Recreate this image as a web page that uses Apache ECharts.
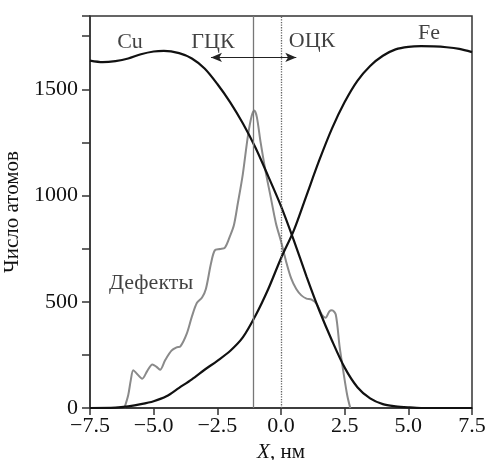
<!DOCTYPE html>
<html>
<head>
<meta charset="utf-8">
<script src="https://cdn.jsdelivr.net/npm/echarts@6/dist/echarts.min.js"></script>
<style>
  html, body { margin: 0; padding: 0; background: #fff; }
  #chart { width: 486px; height: 460px; }
</style>
</head>
<body>
<div id="chart"></div>
<script>
  // Cu profile
  const cuX = [-7.5, -7.0, -6.5, -6.0, -5.5, -5.0, -4.6, -4.0, -3.5, -3.0, -2.5, -2.0, -1.5, -1.0, -0.5, 0.0, 0.5, 1.0, 1.5, 2.0, 2.5, 3.0, 3.5, 4.0, 4.5, 5.0, 5.5, 6.0, 7.5]
  const cuY = [1635, 1628, 1633, 1645, 1665, 1678, 1681, 1670, 1645, 1598, 1525, 1440, 1340, 1225, 1090, 950, 790, 620, 460, 318, 190, 98, 45, 18, 8, 3, 0, 0, 0]
  // Fe profile
  const feX = [-7.5, -6.5, -6.0, -5.5, -5.0, -4.5, -4.0, -3.5, -3.0, -2.5, -2.0, -1.5, -1.0, -0.5, 0.0, 0.5, 1.0, 1.5, 2.0, 2.5, 3.0, 3.5, 4.0, 4.5, 5.0, 5.5, 6.0, 6.5, 7.0, 7.5]
  const feY = [0, 2, 8, 18, 32, 55, 95, 135, 180, 222, 268, 332, 435, 560, 705, 835, 1000, 1165, 1315, 1440, 1540, 1610, 1658, 1688, 1700, 1703, 1702, 1698, 1690, 1675]
  // defects
  const defX = [-6.15, -6.0, -5.9, -5.8, -5.65, -5.45, -5.25, -5.05, -4.9, -4.75, -4.55, -4.3, -4.1, -3.95, -3.7, -3.5, -3.3, -3.1, -2.95, -2.75, -2.6, -2.4, -2.2, -2.0, -1.85, -1.7, -1.5, -1.3, -1.15, -1.05, -0.95, -0.8, -0.6, -0.4, -0.2, 0.0, 0.2, 0.4, 0.6, 0.8, 1.0, 1.2, 1.4, 1.6, 1.75, 1.9, 2.0, 2.15, 2.3, 2.45, 2.6, 2.72]
  const defY = [0, 60, 130, 178, 160, 138, 175, 205, 195, 180, 225, 270, 285, 290, 350, 430, 495, 520, 560, 680, 742, 748, 755, 810, 860, 960, 1100, 1280, 1375, 1400, 1370, 1250, 1110, 990, 870, 785, 690, 610, 560, 530, 515, 510, 490, 440, 425, 455, 460, 440, 290, 170, 60, 0]

  const xTicks = [-7.5, -5.0, -2.5, 0.0, 2.5, 5.0, 7.5]
  const yLabels = [0, 500, 1000, 1500]

  // vertical markers and the ГЦК/ОЦК arrow
  const solidLineX = -1.1
  const dottedLineX = 0.0
  const arrowFrom = [-2.75, 1650]
  const arrowTo = [0.6, 1650]

  // text annotations [x, y, text]
  const notes = [
    [-5.93, 1722, 'Cu'],
    [-2.67, 1722, 'ГЦК'],
    [1.22, 1726, 'ОЦК'],
    [5.81, 1764, 'Fe'],
    [-5.1, 587, 'Дефекты']
  ]

  const font = 'Liberation Serif'
  const ink = '#111'
  const zip = (xs, ys) => xs.map((x, i) => [x, ys[i]])
  const fmtX = v => (v < 0 ? '\u2212' : '') + Math.abs(v).toFixed(1)

  const chart = echarts.init(document.getElementById('chart'))
  chart.setOption({
    animation: false,
    textStyle: {fontFamily: font},
    grid: {
      left: 90, right: 14, top: 16, bottom: 52,
      outerBoundsMode: 'none',
      containLabel: false,
      show: true, borderColor: '#333', borderWidth: 1.5, backgroundColor: 'transparent'
    },
    xAxis: {
      type: 'value',
      min: xTicks[0],
      max: xTicks[xTicks.length - 1],
      interval: 2.5,
      name: '{i|X}, нм',
      nameLocation: 'middle',
      nameGap: 34,
      nameTextStyle: {
        fontFamily: font, fontSize: 21, color: ink,
        rich: {i: {fontFamily: font, fontStyle: 'italic', fontSize: 21, color: ink}}
      },
      axisLine: {onZero: false, lineStyle: {color: '#333', width: 1.5}},
      axisTick: {length: 7, lineStyle: {color: '#333', width: 1.5}},
      axisLabel: {formatter: fmtX, fontSize: 22, color: ink, margin: 7},
      splitLine: {show: false}
    },
    yAxis: {
      type: 'value',
      min: 0,
      max: 1845,
      interval: 250,
      name: 'Число атомов',
      nameLocation: 'middle',
      nameGap: 57,
      nameTextStyle: {fontFamily: font, fontSize: 21, color: ink},
      axisLine: {onZero: false, lineStyle: {color: '#333', width: 1.5}},
      axisTick: {length: 8, lineStyle: {color: '#333', width: 1.5}},
      axisLabel: {
        formatter: v => yLabels.includes(v) ? String(v) : '',
        fontSize: 22, color: ink, margin: 12
      },
      splitLine: {show: false}
    },
    series: [
      {
        name: 'Дефекты',
        type: 'line',
        smooth: 0.3,
        showSymbol: false,
        data: zip(defX, defY),
        lineStyle: {color: '#8a8a8a', width: 2},
        markLine: {
          silent: true,
          symbol: 'none',
          label: {show: false},
          data: [
            {xAxis: solidLineX, lineStyle: {color: '#777', width: 1.3, type: 'solid'}},
            {xAxis: dottedLineX, lineStyle: {color: '#666', width: 1.3, type: 'dotted'}}
          ]
        }
      },
      {
        name: 'Cu',
        type: 'line',
        smooth: 0.3,
        showSymbol: false,
        data: zip(cuX, cuY),
        lineStyle: {color: '#111', width: 2.2},
        markLine: {
          silent: true,
          symbol: ['arrow', 'arrow'],
          symbolSize: [7, 11],
          label: {show: false},
          lineStyle: {color: '#222', width: 1.2, type: 'solid'},
          data: [[{coord: arrowFrom}, {coord: arrowTo}]]
        }
      },
      {
        name: 'Fe',
        type: 'line',
        smooth: 0.3,
        showSymbol: false,
        data: zip(feX, feY),
        lineStyle: {color: '#111', width: 2.2}
      },
      {
        name: 'notes',
        type: 'scatter',
        symbolSize: 0,
        silent: true,
        data: notes.map(n => ({value: [n[0], n[1]], name: n[2]})),
        label: {
          show: true,
          position: 'inside',
          formatter: p => p.name,
          fontFamily: font,
          fontSize: 22,
          color: ink
        }
      }
    ]
  })
</script>
</body>
</html>
